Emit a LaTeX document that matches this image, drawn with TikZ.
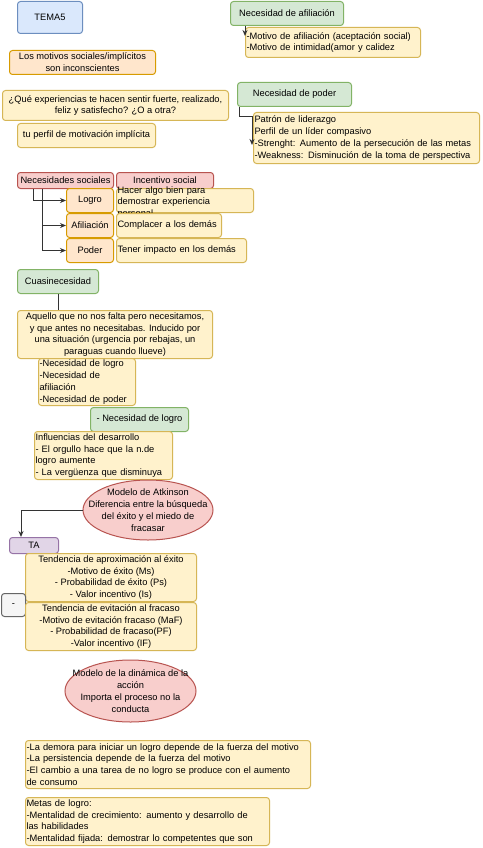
\documentclass[tikz,border=0pt]{standalone}
\usepackage{fontspec}
\setmainfont{Liberation Sans}
\usetikzlibrary{arrows.meta,positioning,shapes.geometric}
\definecolor{tblue}{HTML}{DAE8FC}
\definecolor{tbluel}{HTML}{6C8EBF}
\definecolor{torange}{HTML}{FFE6CC}
\definecolor{torangel}{HTML}{D79B00}
\definecolor{tyellow}{HTML}{FFF2CC}
\definecolor{tyellowl}{HTML}{D6B656}
\definecolor{tgreen}{HTML}{D5E8D4}
\definecolor{tgreenl}{HTML}{82B366}
\definecolor{tred}{HTML}{F8CECC}
\definecolor{tredl}{HTML}{B85450}
\definecolor{tpurple}{HTML}{E1D5E7}
\definecolor{tpurplel}{HTML}{9673A6}
\definecolor{tgray}{HTML}{F5F5F5}
\definecolor{tgrayl}{HTML}{666666}
\definecolor{tline}{HTML}{333333}
\hyphenpenalty=10000
\begin{document}
\begin{tikzpicture}[x=1pt,y=-1pt,>={Stealth[length=6pt,width=5pt]},font=\fontsize{9.3}{11.8}\selectfont,
 wh/.style 2 args={minimum width=#1pt,minimum height=#2pt},lt/.style={align=left,text width=#1pt,inner xsep=0pt},
 n/.style={draw,rounded corners=3pt,line width=1pt,inner xsep=2pt,inner ysep=0pt,align=center,anchor=north west},
 bb/.style={n,fill=tblue,draw=tbluel},ob/.style={n,fill=torange,draw=torangel},
 yb/.style={n,fill=tyellow,draw=tyellowl},gb/.style={n,fill=tgreen,draw=tgreenl},
 rb/.style={n,fill=tred,draw=tredl},pb/.style={n,fill=tpurple,draw=tpurplel},sb/.style={n,fill=tgray,draw=tgrayl},
 el/.style={ellipse,draw=tredl,fill=tred,line width=1pt,inner sep=0pt},
 a/.style={->,line width=1pt,draw=tline}]
\path[use as bounding box,fill=white] (0,0) rectangle (482,848);
\node[bb,wh={65}{32}] (tema) at (17,1) {TEMA5};
\node[ob,wh={146}{24}] (mot) at (9,50) {Los motivos sociales/implícitos\\son inconscientes};
\node[yb,wh={226}{30}] (preg) at (2,90) {¿Qué experiencias te hacen sentir fuerte, realizado,\\feliz y satisfecho? ¿O a otra?};
\node[yb,wh={138}{24}] (perf) at (17,123) {tu perfil de motivación implícita};
\node[gb,wh={113}{24}] (naf) at (230,1) {Necesidad de afiliación};
\node[yb,wh={175}{30},lt=173] (af) at (245,27) {-Motivo de afiliación (aceptación social)\\-Motivo de intimidad(amor y calidez};
\node[gb,wh={114}{24}] (npo) at (237,82) {Necesidad de poder};
\node[yb,wh={226}{51},lt=224] (po) at (253,112) {Patrón de liderazgo\\Perfil de un líder compasivo\\-Strenght: Aumento de la persecución de las metas\\-Weakness: Disminución de la toma de perspectiva};
\node[rb,wh={96}{16}] (nsoc) at (17,172) {Necesidades sociales};
\node[rb,wh={97}{16},right=2pt of nsoc] (inc) {Incentivo social};
\node[ob,wh={47}{24}] (lo) at (66,188) {Logro};
\node[yb,wh={137}{24},right=2pt of lo] (hac) {};
\node[lt=135] (hact) at ([shift={(0,2)}]hac.center) {Hacer algo bien para\\demostrar experiencia\\personal};
\node[ob,wh={47}{24},below=0pt of lo] (afi) {Afiliación};
\node[yb,wh={105}{24},lt=103,right=2pt of afi] (comp) {Complacer a los demás};
\node[ob,wh={47}{24},below=0pt of afi] (pod) {Poder};
\node[yb,wh={130}{24},lt=128,right=2pt of pod] (imp) {Tener impacto en los demás};
\node[gb,wh={81}{24}] (cua) at (17,269) {Cuasinecesidad};
\node[yb,wh={195}{48}] (aq) at (17,310) {Aquello que no nos falta pero necesitamos,\\y que antes no necesitabas. Inducido por\\una situación (urgencia por rebajas, un\\paraguas cuando llueve)};
\node[yb,wh={97}{47},lt=95] (lis) at (38,358) {-Necesidad de logro\\-Necesidad de\\afiliación\\-Necesidad de poder};
\node[gb,wh={98}{24}] (nlo) at (90,407) {- Necesidad de logro};
\node[yb,wh={138}{48},lt=136] (inf) at (34,431) {Influencias del desarrollo\\- El orgullo hace que la n.de\\logro aumente\\- La vergüenza que disminuya};
\node[el,wh={130}{60}] (atk) at (148,510) {};
\node[align=center] (atkt) at (atk) {Modelo de Atkinson\\Diferencia entre la búsqueda\\del éxito y el miedo de\\fracasar};
\node[pb,wh={49}{16}] (ta) at (9,537) {TA};
\node[yb,wh={171}{48}] (apr) at (25,553) {Tendencia de aproximación al éxito\\-Motivo de éxito (Ms)\\- Probabilidad de éxito (Ps)\\- Valor incentivo (Is)};
\node[sb,wh={24}{23}] (gui) at (1,593) {-};
\node[yb,wh={171}{48}] (evi) at (25,602) {Tendencia de evitación al fracaso\\-Motivo de evitación fracaso (MaF)\\- Probabilidad de fracaso(PF)\\-Valor incentivo (IF)};
\node[el,wh={131}{62}] (din) at (130.5,691) {};
\node[align=center] (dint) at (din) {Modelo de la dinámica de la\\acción\\Importa el proceso no la\\conducta};
\node[yb,wh={285}{48},lt=283] (dem) at (25,740) {-La demora para iniciar un logro depende de la fuerza del motivo\\-La persistencia depende de la fuerza del motivo\\-El cambio a una tarea de no logro se produce con el aumento\\de consumo};
\node[yb,wh={244}{48},lt=242] (met) at (25,797) {Metas de logro:\\-Mentalidad de crecimiento: aumento y desarrollo de\\las habilidades\\-Mentalidad fijada: demostrar lo competentes que son};
\draw[a] (af.west |- naf.south) -- ([shift={(0,9)}]af.north west);
\draw[a] ([shift={(2,0)}]npo.south west) |- ([shift={(-1,5)}]po.north west) -- ([shift={(-1,33)}]po.north west);
\draw[a] ([shift={(16,0)}]nsoc.south west) |- (lo.west); \draw[a] ([shift={(25,0)}]nsoc.south west) |- (afi.west);
\draw[a] ([shift={(25,0)}]nsoc.south west) |- (pod.west);
\draw[line width=1pt,draw=tline] (cua.south) -- (cua.south |- aq.north);
\draw[a] (atk.west) -| ([shift={(12,0)}]ta.north west);
\end{tikzpicture}
\end{document}
